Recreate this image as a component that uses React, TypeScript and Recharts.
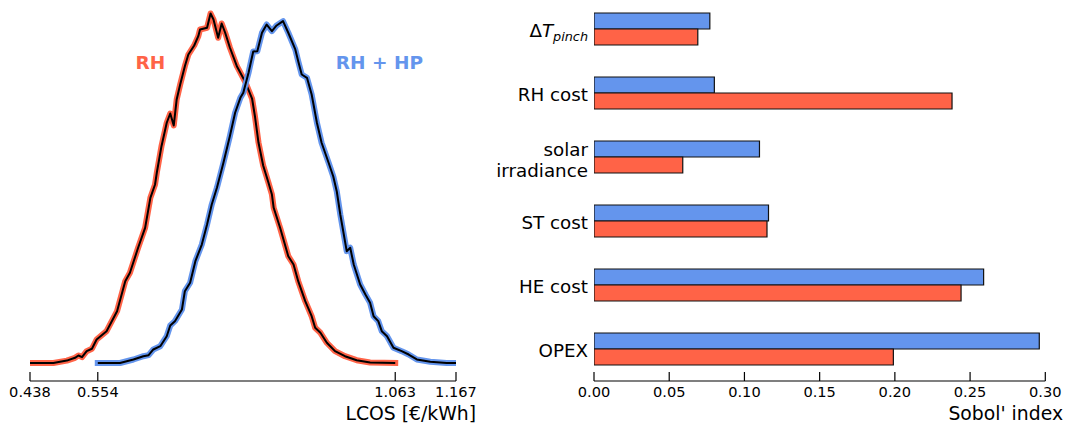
import React from 'react';
import { ComposedChart, Line, XAxis, YAxis, ReferenceDot, BarChart, Bar } from 'recharts';

const RED = '#FF6347';
const BLUE = '#6495ED';
const FONT = '"DejaVu Sans", sans-serif';

// ---- LCOS distributions (density, arbitrary units) ----
const rhLcos = [
  0.438, 0.478, 0.501, 0.515, 0.521, 0.527, 0.535, 0.544, 0.552, 0.569, 0.587, 0.601, 0.609, 0.623,
  0.635, 0.644, 0.652, 0.655, 0.663, 0.672, 0.678, 0.684, 0.689, 0.695, 0.703, 0.709, 0.719, 0.726,
  0.729, 0.741, 0.747, 0.752, 0.760, 0.766, 0.772, 0.780, 0.792, 0.806, 0.818, 0.823, 0.829, 0.837,
  0.846, 0.852, 0.855, 0.866, 0.880, 0.889, 0.897, 0.909, 0.920, 0.926, 0.935, 0.946, 0.960, 0.977,
  0.997, 1.020, 1.063,
];
const rhDensity = [
  0.0, 0.0, 0.03, 0.065, 0.094, 0.073, 0.148, 0.178, 0.294, 0.398, 0.648, 1.023, 1.128, 1.44,
  1.69, 2.065, 2.231, 2.378, 2.71, 3.003, 3.119, 2.969, 3.294, 3.481, 3.71, 3.856, 3.969, 4.085,
  4.169, 4.19, 4.369, 4.294, 4.065, 4.244, 4.128, 3.944, 3.71, 3.519, 3.306, 3.081, 2.756, 2.469,
  2.256, 2.106, 1.94, 1.69, 1.335, 1.231, 1.023, 0.773, 0.585, 0.44, 0.378, 0.253, 0.148, 0.085,
  0.035, 0.006, 0.0,
];
const rhHpLcos = [
  0.554, 0.592, 0.615, 0.632, 0.641, 0.649, 0.661, 0.672, 0.678, 0.686, 0.698, 0.703, 0.712, 0.721,
  0.732, 0.741, 0.749, 0.758, 0.769, 0.780, 0.789, 0.798, 0.803, 0.812, 0.820, 0.827, 0.835, 0.843,
  0.852, 0.860, 0.871, 0.880, 0.892, 0.897, 0.903, 0.912, 0.920, 0.929, 0.937, 0.949, 0.957, 0.963,
  0.969, 0.980, 0.986, 0.992, 1.003, 1.012, 1.020, 1.026, 1.034, 1.040, 1.049, 1.060, 1.074, 1.086,
  1.100, 1.123, 1.151, 1.167,
];
const rhHpDensity = [
  0.0, 0.0, 0.044, 0.085, 0.098, 0.169, 0.21, 0.335, 0.469, 0.523, 0.669, 0.898, 1.003, 1.273,
  1.481, 1.731, 1.981, 2.194, 2.503, 2.835, 3.128, 3.315, 3.378, 3.628, 3.894, 3.898, 4.128, 4.231,
  4.148, 4.219, 4.273, 4.128, 3.919, 3.773, 3.606, 3.565, 3.356, 3.003, 2.753, 2.503, 2.331, 2.144,
  1.856, 1.398, 1.44, 1.231, 0.981, 0.856, 0.753, 0.585, 0.523, 0.398, 0.335, 0.19, 0.148, 0.106,
  0.044, 0.015, 0.0, 0.0,
];
const lcosTicks = [0.438, 0.554, 1.063, 1.167];

// ---- Sobol indices ----
const factors = ['ΔT_pinch', 'RH cost', 'solar irradiance', 'ST cost', 'HE cost', 'OPEX'];
const sobolRhHp = [0.077, 0.080, 0.110, 0.116, 0.259, 0.296];
const sobolRh = [0.069, 0.238, 0.059, 0.115, 0.244, 0.199];
const sobolTicks = [0, 0.05, 0.1, 0.15, 0.2, 0.25, 0.3];

const rhData = rhLcos.map((x, i) => ({ x, y: rhDensity[i] }));
const rhHpData = rhHpLcos.map((x, i) => ({ x, y: rhHpDensity[i] }));
const barData = factors.map((f, i) => ({ factor: f, rhHp: sobolRhHp[i], rh: sobolRh[i] }));

const makeXTick = (decimals: number) => (props: any) => {
  const { x, y, payload } = props;
  return (
    <g>
      <line x1={x} x2={x} y1={y} y2={y - 9} stroke="#000" strokeWidth={1.2} />
      <text x={x} y={y + 16} textAnchor="middle" fontSize={14.6} fontFamily={FONT} fill="#000">
        {Number(payload.value).toFixed(decimals)}
      </text>
    </g>
  );
};

const YTick = (props: any) => {
  const { x, y, payload } = props;
  const label: string = payload.value;
  if (label.includes('_')) {
    const [main, sub] = label.split('_');
    return (
      <text x={x} y={y + 8} textAnchor="end" fontSize={18.3} fontFamily={FONT} fill="#000">
        <tspan>{main.slice(0, 1)}</tspan>
        <tspan fontStyle="italic">{main.slice(1)}</tspan>
        <tspan fontStyle="italic" fontSize={12.8} dy={3.5}>{sub}</tspan>
      </text>
    );
  }
  if (label.length > 12) {
    const lines = label.split(' ');
    return (
      <text x={x} y={y - 1} textAnchor="end" fontSize={18.3} fontFamily={FONT} fill="#000">
        {lines.map((l, i) => (
          <tspan key={i} x={x} dy={i === 0 ? 0 : 20.7}>{l}</tspan>
        ))}
      </text>
    );
  }
  return (
    <text x={x} y={y + 7.5} textAnchor="end" fontSize={18.3} fontFamily={FONT} fill="#000">
      {label}
    </text>
  );
};

const annot = (text: string, color: string) => (p: any) => (
  <text x={p.cx} y={p.cy} textAnchor="middle" fontSize={18.5} fontWeight="bold" fontFamily={FONT} fill={color}>
    {text}
  </text>
);

export default function App() {
  return (
    <div style={{ position: 'absolute', left: 0, top: 0, width: 1066, height: 423, overflow: 'hidden', background: '#fff' }}>
      <div style={{ position: 'absolute', left: 0, top: 0 }}>
        <ComposedChart width={500} height={423} margin={{ top: 0, right: 44, bottom: 0, left: 30 }}>
          <XAxis
            type="number"
            dataKey="x"
            domain={[0.438, 1.167]}
            ticks={lcosTicks}
            allowDataOverflow
            height={42}
            tickSize={0}
            tickMargin={0}
            tickLine={false}
            interval={0}
            axisLine={{ stroke: '#000', strokeWidth: 1.2 }}
            tick={makeXTick(3)}
          />
          <YAxis type="number" hide domain={[-0.225, 4.5375]} allowDataOverflow />
          <Line data={rhData} dataKey="y" type="linear" stroke={RED} strokeWidth={6} dot={false} activeDot={false} strokeLinecap="square" strokeLinejoin="round" isAnimationActive={false} />
          <Line data={rhData} dataKey="y" type="linear" stroke="#000" strokeWidth={2} dot={false} activeDot={false} strokeLinejoin="round" isAnimationActive={false} />
          <Line data={rhHpData} dataKey="y" type="linear" stroke={BLUE} strokeWidth={6} dot={false} activeDot={false} strokeLinecap="square" strokeLinejoin="round" isAnimationActive={false} />
          <Line data={rhHpData} dataKey="y" type="linear" stroke="#000" strokeWidth={2} dot={false} activeDot={false} strokeLinejoin="round" isAnimationActive={false} />
          <ReferenceDot x={0.644} y={3.67} r={0} shape={annot('RH', RED)} />
          <ReferenceDot x={1.036} y={3.67} r={0} shape={annot('RH + HP', BLUE)} />
          <text x={476} y={420} textAnchor="end" fontSize={18.8} fontFamily={FONT} fill="#000">LCOS [€/kWh]</text>
        </ComposedChart>
      </div>
      <div style={{ position: 'absolute', left: 470, top: -3 }}>
        <BarChart
          layout="vertical"
          width={596}
          height={426}
          data={barData}
          margin={{ top: 0, right: 20.7, bottom: 0, left: 30 }}
          barSize={16}
          barGap={0}
          barCategoryGap={16}
        >
          <XAxis
            type="number"
            domain={[0, 0.3]}
            ticks={sobolTicks}
            allowDataOverflow
            height={42}
            tickSize={0}
            tickMargin={0}
            tickLine={false}
            interval={0}
            axisLine={{ stroke: '#000', strokeWidth: 1.2 }}
            tick={makeXTick(2)}
          />
          <YAxis
            type="category"
            dataKey="factor"
            width={94}
            axisLine={false}
            tickLine={false}
            tickSize={0}
            tickMargin={6}
            interval={0}
            tick={<YTick />}
          />
          <Bar dataKey="rhHp" fill={BLUE} stroke="#111" strokeWidth={1.2} isAnimationActive={false} />
          <Bar dataKey="rh" fill={RED} stroke="#111" strokeWidth={1.2} isAnimationActive={false} />
          <text x={593} y={423} textAnchor="end" fontSize={18.8} fontFamily={FONT} fill="#000">Sobol' index</text>
        </BarChart>
      </div>
    </div>
  );
}
